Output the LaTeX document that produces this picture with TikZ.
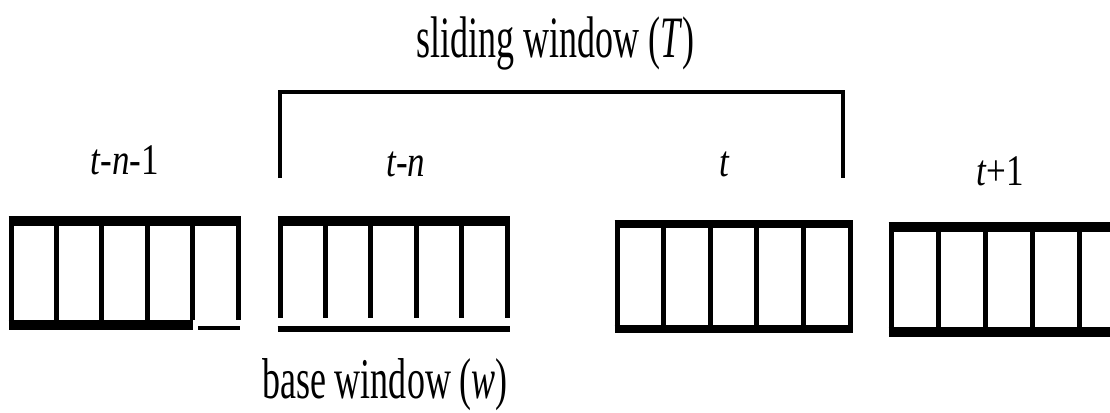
\documentclass[tikz,border=0pt]{standalone}
\usepackage{graphicx}
\usepackage{fontspec}
\setmainfont{Liberation Serif}

\begin{document}
\begin{tikzpicture}[x=1pt, y=-1pt, every node/.style={inner sep=0pt, anchor=base},
    band/.style={line width=10pt}, cellline/.style={line width=5pt},
    brack/.style={line width=4.5pt, line join=miter},
    title/.style={font=\fontsize{36}{40}\selectfont},
    lab/.style={font=\fontsize{35}{38}\selectfont}]
  \useasboundingbox (0,0) rectangle (1110,412);
  \clip (0,0) rectangle (1110,412);
  \foreach \x/\w/\tp/\bw/\vb in {11/227/221/10/320, 280/227/221/10/318, 617/233/224/8/329, 891/235/227/10/331.5}{
    \draw[band, line width=\bw pt] (\x-2.5,\tp) -- (\x+\w+2.5,\tp);
    \foreach \k in {0,...,5}
      \draw[cellline] (\x+\k*\w/5,\tp) -- (\x+\k*\w/5,\vb);
  }
  \draw[band] (8.5,325) -- (193,325);
  \draw[line width=4pt] (198,328) -- (240,328);
  \draw[line width=6pt] (277.5,329) -- (509.5,329);
  \draw[band, line width=8pt] (614.5,329) -- (852.5,329);
  \draw[band] (888.5,331.5) -- (1128.5,331.5);
  \coordinate (wl) at (280,178);
  \coordinate (wr) at (843,178);
  \draw[brack] (wl) |- (561,92) -| (wr);
  \node[title] (slide) at (555.5,57) {\scalebox{1}[1.63]{sliding window (\textit{T})}};
  \node[title] (base) at (385,398) {\scalebox{1}[1.6]{base window (\textit{w})}};
  \node[lab] (tn1) at (125,174) {\scalebox{1}[1.25]{\textit{t-n}-1}};
  \node[lab] (tn) at (406,176) {\scalebox{1}[1.25]{\textit{t-n}}};
  \node[lab] (t) at (725,176) {\scalebox{1}[1.25]{\textit{t}}};
  \node[lab] (t1) at (1000,185) {\scalebox{1}[1.25]{\textit{t}+1}};
\end{tikzpicture}
\end{document}
